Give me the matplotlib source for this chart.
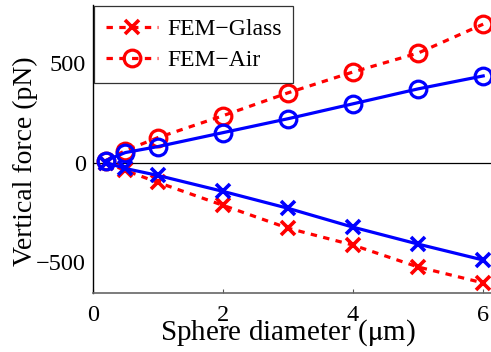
import matplotlib
matplotlib.use('Agg')
import matplotlib.pyplot as plt

# Sphere diameters (um) and vertical forces (pN)
diameter = [0.2, 0.5, 1, 2, 3, 4, 5, 6]
fem_glass = [0, -40, -100, -215, -330, -415, -525, -605]
fem_air = [10, 60, 125, 235, 350, 455, 550, 695]
model_glass = [0, -30, -65, -145, -230, -325, -410, -490]
model_air = [10, 50, 80, 150, 220, 295, 370, 435]

xticks = [0, 2, 4, 6]
yticks = [-500, 0, 500]

plt.rcParams['font.family'] = ['Liberation Serif', 'DejaVu Serif']
plt.rcParams['mathtext.fontset'] = 'stix'

fig = plt.figure(figsize=(4.91, 3.52), dpi=100)
ax = fig.add_axes([0.189, 0.168, 0.811, 0.817])

dots = (2.0, 2.0)
l1, = ax.plot(diameter, fem_glass, color='red', linestyle=(0, dots), linewidth=2.3,
              marker='x', markersize=10, markeredgewidth=2.6, label='FEM\u2212Glass')
l2, = ax.plot(diameter, fem_air, color='red', linestyle=(0, dots), linewidth=2.3,
              marker='o', markersize=12, markeredgewidth=2.3, markerfacecolor='none',
              label='FEM\u2212Air')
ax.plot(diameter, model_glass, color='blue', linewidth=2.3,
        marker='x', markersize=10, markeredgewidth=2.6)
ax.plot(diameter, model_air, color='blue', linewidth=2.3,
        marker='o', markersize=12, markeredgewidth=2.3, markerfacecolor='none')

ax.axhline(0, color='black', linewidth=0.9, zorder=1)

ax.set_xlim(0, 6.12)
ax.set_ylim(-655, 790)
ax.set_xticks(xticks)
ax.set_yticks(yticks)
ax.set_yticklabels(['\u2212500', '0', '500'])
ax.tick_params(axis='x', direction='in', length=3, labelsize=17.5, pad=9, color='#555555')
ax.tick_params(axis='y', length=0, labelsize=17.5, pad=5)

ax.spines['top'].set_visible(False)
ax.spines['right'].set_visible(False)
ax.spines['bottom'].set_color('#666666')
ax.spines['bottom'].set_linewidth(1.2)
ax.spines['left'].set_linewidth(1.0)

ax.set_xlabel('Sphere diameter ($\\mathrm{\\mu}$m)', fontsize=21, va='baseline')
ax.xaxis.set_label_coords(0.489, -0.163)
ax.set_ylabel('Vertical force (pN)', fontsize=20)
ax.yaxis.set_label_coords(-0.138, 0.458)

leg = ax.legend(handles=[l1, l2], loc='upper left', fontsize=17, frameon=True,
                fancybox=False, edgecolor='black', borderaxespad=0.05,
                handlelength=2.2, handletextpad=0.4, borderpad=0.5, labelspacing=0.4)
leg.get_frame().set_linewidth(0.9)

fig.savefig('out.png', dpi=100)
